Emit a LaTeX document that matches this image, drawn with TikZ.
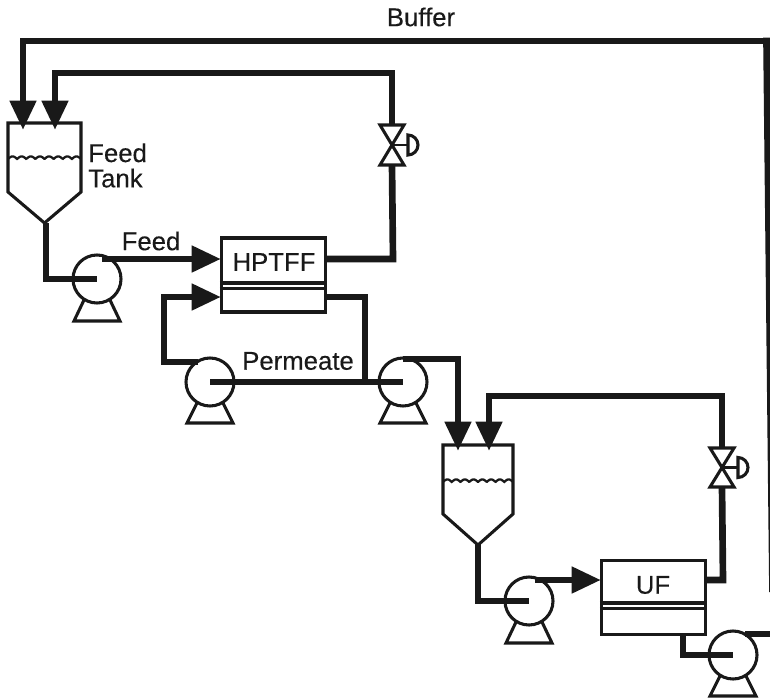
\documentclass[tikz,border=0pt]{standalone}
\usepackage{fontspec}
\setmainfont{Liberation Sans}[FakeBold=0.25]
\usetikzlibrary{arrows.meta}
\definecolor{ink}{gray}{0.1}
\tikzset{
 x=0.75pt,y=-0.75pt,
 pipe/.style={line width=5pt,color=ink,line join=miter},
 flow/.style={pipe,-{Triangle[length=22pt,width=19pt]}},
 outline/.style={line width=2.3pt,color=ink,line join=miter},
 pumpbody/.style={circle,draw=ink,line width=2.3pt,minimum size=36pt,inner sep=0pt,fill=white},
 modulebox/.style={rectangle,draw=ink,line width=2.3pt,minimum width=78pt,minimum height=55.5pt,inner sep=0pt},
 lbl/.style={inner sep=0pt,text=ink,font=\fontsize{19.3pt}{19pt}\selectfont,align=left},
}
\newcommand{\pumpbase}[3]{% cx cy basey
 \draw[outline] (#1-13,#2+21) -- (#1-23,#3) -- (#1+23,#3) -- (#1+13,#2+21);}
\newcommand{\tankshape}[4]{% left right top wave
 \pgfmathsetmacro{\mx}{(#1+#2)/2}
 \draw[outline] (#1,#3) -- (#2,#3) -- (#2,#3+69) -- (\mx,#3+100) -- (#1,#3+69) -- cycle;
 \draw[line width=1.7pt,color=ink] plot[domain=#1:#2,samples=90] (\x,{#4+1-2.6*abs(sin((\x-#1)/(#2-#1)*1440))});}
\newcommand{\valveshape}[3]{% x topy bottomy
 \pgfmathsetmacro{\my}{(#2+#3)/2}
 \draw[outline] (#1-12,#2) -- (#1+12,#2) -- (#1-12,#3) -- (#1+12,#3) -- cycle;
 \draw[line width=1.8pt,color=ink] (#1,\my) -- (#1+16,\my);
 \draw[outline] (#1+16,\my-10) arc[start angle=-90,end angle=90,radius=10] -- cycle;}
\begin{document}
\begin{tikzpicture}
\useasboundingbox (0,0) rectangle (770,699);
% nodes
\node[pumpbody] (p1) at (97,279) {};
\node[pumpbody] (p2) at (210,382) {};
\node[pumpbody] (p3) at (403,382) {};
\node[pumpbody] (p4) at (529,601) {};
\node[pumpbody] (p5) at (733,655) {};
\node[modulebox] (hp) at (273.5,275) {};
\node[modulebox] (uf) at (653.5,597.5) {};
\node[lbl] (hpl) at (274,262) {HPTFF};
\node[lbl] (ufl) at (653,585) {UF};
\node[lbl,anchor=west] (ft) at (88,165.5) {Feed\\Tank};
\node[lbl] (feedl) at (151,241) {Feed};
\node[lbl] (perm) at (298,361) {Permeate};
\node[lbl] (buf) at (421,17) {Buffer};
% coordinates
\coordinate (t1tip) at (46,223);
\coordinate (t2tip) at (478,544);
\coordinate (t1a) at (23,130);
\coordinate (t1b) at (55,130);
\coordinate (t2a) at (458,451);
\coordinate (t2b) at (489,451);
\coordinate (v1t) at (392,125);
\coordinate (v1b) at (392,165);
\coordinate (v2t) at (722,448);
\coordinate (v2b) at (722,487);
\coordinate (hpin) at (221,259);
\coordinate (hpin2) at (221,297);
\coordinate (hpout) at (327,259);
\coordinate (hpout2) at (327,297);
\coordinate (ufin) at (601,580);
\coordinate (ufout) at (706,580);
\coordinate (ufbot) at (683,635);
\coordinate (bufcorner) at (766.5,41);
\coordinate (bufend) at (772.5,592);
\coordinate (p5out) at (770,634);
% shapes
\tankshape{8}{81}{123}{158}
\tankshape{443}{513}{445}{481}
\valveshape{392}{125}{165}
\valveshape{722}{448}{487}
\draw[outline] (hp.west |- 0,283) -- (hp.east |- 0,283);
\draw[outline] (hp.west |- 0,288.5) -- (hp.east |- 0,288.5);
\draw[outline] (uf.west |- 0,603) -- (uf.east |- 0,603);
\draw[outline] (uf.west |- 0,608.5) -- (uf.east |- 0,608.5);
\pumpbase{97}{279}{321}
\pumpbase{210}{382}{423}
\pumpbase{403}{382}{423}
\pumpbase{529}{601}{643}
\pumpbase{733}{655}{696}
% pipes
\draw[flow] (bufcorner) -- (23,41) -- (t1a);
\draw[flow] (v1t) -- (392,73) -- (55,73) -- (t1b);
\draw[pipe] (t1tip) -- (46,279) -- (p1.center);
\draw[flow] (102,259) -- (hpin);
\draw[pipe] (hpout) -- (393,259) -- (v1b);
\draw[flow] (198,362) -- (164,362) -- (164,297) -- (hpin2);
\draw[pipe] (p2.center) -- (p3.center);
\draw[pipe] (hpout2) -- (365,297) -- (365,382);
\draw[flow] (403,359) -- (458,359) -- (t2a);
\draw[flow] (v2t) -- (722,396) -- (489,396) -- (t2b);
\draw[pipe] (t2tip) -- (478,601) -- (p4.center);
\draw[flow] (535,580) -- (ufin);
\draw[pipe] (ufout) -- (723,580) -- (v2b);
\draw[pipe] (ufbot) -- (683,655) -- (p5.center);
\draw[pipe] (745,634) -- (p5out);
\begin{scope}
\clip (0,0) rectangle (770,699);
\draw[pipe] (763,41) -- (bufcorner) -- (bufend);
\end{scope}
\end{tikzpicture}
\end{document}
